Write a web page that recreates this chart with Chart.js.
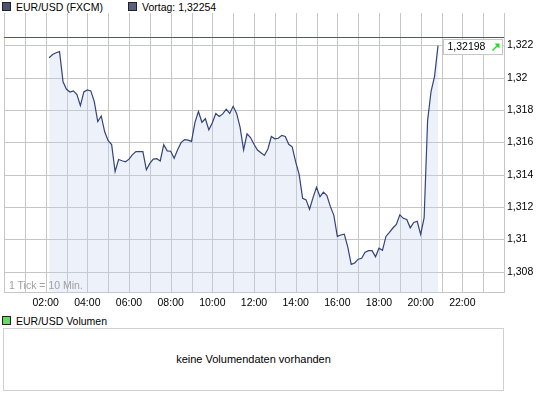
<!DOCTYPE html>
<html>
<head>
<meta charset="utf-8">
<script src="https://cdn.jsdelivr.net/npm/chart.js@4.4.0/dist/chart.umd.min.js"></script>
<style>
  body { margin: 0; width: 545px; height: 395px; background: #fff; position: relative; overflow: hidden;
         font-family: "Liberation Sans", Arial, sans-serif; font-size: 10.5px; color: #000; }
  .sq { position: absolute; width: 7px; height: 7px; border: 1px solid #222; }
  .lbl { position: absolute; white-space: nowrap; line-height: 12px; }
  #chartBox { position: absolute; left: 0; top: 0; }
  #tick { position: absolute; left: 9px; top: 279px; color: #a0a0a0; line-height: 12px; }
  #vol { position: absolute; left: 3px; top: 328px; width: 499px; height: 61px; border: 1px solid #d0d0d0;
         text-align: center; line-height: 61px; font-size: 11px; }
</style>
</head>
<body>
<div class="sq" style="left:2px;top:2px;background:#4d5274"></div>
<div class="lbl" style="left:16px;top:1px">EUR/USD (FXCM)</div>
<div class="sq" style="left:128px;top:2px;background:#5a5f80"></div>
<div class="lbl" style="left:142px;top:1px">Vortag: 1,32254</div>

<div id="chartBox"><canvas id="priceChart" width="545" height="312"></canvas></div>
<div id="tick">1 Tick = 10 Min.</div>

<div class="sq" style="left:2px;top:316px;background:#66d866"></div>
<div class="lbl" style="left:16px;top:315px">EUR/USD Volumen</div>
<div id="vol">keine Volumendaten vorhanden</div>

<script>
// EUR/USD, one value every 10 minutes starting 02:10
const startMinute = 130;
const stepMinutes = 10;
const prices = [
  1.32123, 1.32143, 1.32154, 1.32161, 1.31974, 1.31928, 1.31911, 1.31918, 1.31896, 1.31827,
  1.31912, 1.31924, 1.31918, 1.31852, 1.31728, 1.31763, 1.31665, 1.31610, 1.31586, 1.31419,
  1.31494, 1.31486, 1.31480, 1.31496, 1.31524, 1.31543, 1.31543, 1.31543, 1.31430, 1.31470,
  1.31496, 1.31499, 1.31485, 1.31586, 1.31547, 1.31545, 1.31501, 1.31554, 1.31598, 1.31617,
  1.31614, 1.31606, 1.31724, 1.31791, 1.31724, 1.31746, 1.31677, 1.31721, 1.31778, 1.31760,
  1.31776, 1.31805, 1.31779, 1.31823, 1.31779, 1.31692, 1.31553, 1.31653, 1.31630, 1.31588,
  1.31552, 1.31535, 1.31519, 1.31559, 1.31636, 1.31622, 1.31625, 1.31643, 1.31636, 1.31588,
  1.31572, 1.31479, 1.31402, 1.31254, 1.31244, 1.31186, 1.31258, 1.31322, 1.31264, 1.31292,
  1.31271, 1.31202, 1.31148, 1.31018, 1.31027, 1.31032, 1.30954, 1.30845, 1.30854, 1.30877,
  1.30883, 1.30920, 1.30930, 1.30930, 1.30892, 1.30945, 1.30932, 1.31018, 1.31043, 1.31070,
  1.31092, 1.31151, 1.31130, 1.31123, 1.31071, 1.31104, 1.31112, 1.31031, 1.31134, 1.31736,
  1.31916, 1.32008, 1.32198
];
const prevClose = 1.32254;
const lastLabel = '1,32198';
const xTickLabels = ['02:00', '04:00', '06:00', '08:00', '10:00', '12:00', '14:00', '16:00', '18:00', '20:00', '22:00'];
const yTicks = [1.308, 1.31, 1.312, 1.314, 1.316, 1.318, 1.32, 1.322];

const points = prices.map((v, i) => ({ x: startMinute + i * stepMinutes, y: v }));
const toMin = s => parseInt(s.slice(0, 2)) * 60 + parseInt(s.slice(3));
const labelMins = xTickLabels.map(toMin);
const gridMins = [];
for (let h = 0; h <= 24; h++) gridMins.push(h * 60);

const gridColor = '#c6c6c6';
const tickFont = { family: 'Liberation Sans', size: 10.5 };

// grid drawn by hand, under the translucent fill
const gridLines = {
  id: 'gridLines',
  beforeDatasetsDraw(chart) {
    const { ctx, chartArea: a, scales: { x, y } } = chart;
    ctx.save();
    ctx.strokeStyle = gridColor;
    ctx.lineWidth = 1;
    ctx.beginPath();
    gridMins.forEach(m => {
      const px = Math.round(x.getPixelForValue(m)) + 0.5;
      ctx.moveTo(px, a.top); ctx.lineTo(px, a.bottom);
    });
    yTicks.forEach(v => {
      const py = Math.round(y.getPixelForValue(v)) + 0.5;
      ctx.moveTo(a.left, py); ctx.lineTo(a.right, py);
    });
    const pb = Math.round(a.bottom) - 0.5;
    ctx.moveTo(a.left, pb); ctx.lineTo(a.right, pb);
    ctx.stroke();
    ctx.restore();
  }
};

const overlay = {
  id: 'overlay',
  afterDatasetsDraw(chart) {
    const { ctx, chartArea: a, scales: { y } } = chart;
    ctx.save();
    // previous close line
    const py = Math.round(y.getPixelForValue(prevClose)) + 0.5;
    ctx.strokeStyle = '#50557a';
    ctx.lineWidth = 1;
    ctx.beginPath(); ctx.moveTo(a.left, py); ctx.lineTo(a.right, py); ctx.stroke();
    // last price box
    const ly = Math.round(y.getPixelForValue(prices[prices.length - 1]));
    const bx = 443.5, by = ly - 6.5, bw = 59, bh = 15;
    ctx.fillStyle = '#fff';
    ctx.fillRect(bx, by, bw, bh);
    ctx.strokeStyle = '#c6c6c6';
    ctx.strokeRect(bx, by, bw, bh);
    ctx.fillStyle = '#000';
    ctx.font = '10.5px "Liberation Sans"';
    ctx.textBaseline = 'middle';
    ctx.fillText(lastLabel, bx + 4, by + bh / 2 + 0.5);
    // green up arrow
    const ax = bx + 49, ay = by + 11;
    ctx.strokeStyle = '#18e018';
    ctx.fillStyle = '#18e018';
    ctx.lineWidth = 1.5;
    ctx.beginPath(); ctx.moveTo(ax, ay); ctx.lineTo(ax + 5, ay - 5); ctx.stroke();
    ctx.beginPath(); ctx.moveTo(ax + 7, ay - 7); ctx.lineTo(ax + 7, ay - 2); ctx.lineTo(ax + 2, ay - 7); ctx.closePath(); ctx.fill();
    ctx.restore();
  }
};

new Chart(document.getElementById('priceChart').getContext('2d'), {
  type: 'line',
  data: {
    datasets: [{
      data: points,
      borderColor: '#34437a',
      borderWidth: 1.2,
      backgroundColor: 'rgba(195,208,240,0.3)',
      fill: 'start',
      pointRadius: 0,
      tension: 0
    }]
  },
  options: {
    responsive: false,
    animation: false,
    layout: { padding: { left: 4, top: 13, right: 0, bottom: 0 } },
    plugins: { legend: { display: false }, tooltip: { enabled: false } },
    scales: {
      x: {
        type: 'linear',
        min: 0,
        max: 1440,
        afterBuildTicks: s => { s.ticks = gridMins.map(v => ({ value: v })); },
        afterFit: s => { s.height = 19; },
        grid: { display: false, drawTicks: false },
        border: { display: false },
        ticks: {
          autoSkip: false,
          maxRotation: 0,
          padding: 4,
          color: '#000',
          font: tickFont,
          callback: v => {
            const i = labelMins.indexOf(v);
            return i >= 0 ? xTickLabels[i] : '';
          }
        }
      },
      y: {
        position: 'right',
        min: 1.30668,
        max: 1.324,
        afterBuildTicks: s => { s.ticks = yTicks.map(v => ({ value: v })); },
        afterFit: s => { s.width = 41; },
        grid: { display: false, drawTicks: false },
        border: { display: false },
        ticks: {
          padding: 3,
          color: '#000',
          font: tickFont,
          callback: v => String(v).replace('.', ',')
        }
      }
    }
  },
  plugins: [gridLines, overlay]
});
</script>
</body>
</html>
